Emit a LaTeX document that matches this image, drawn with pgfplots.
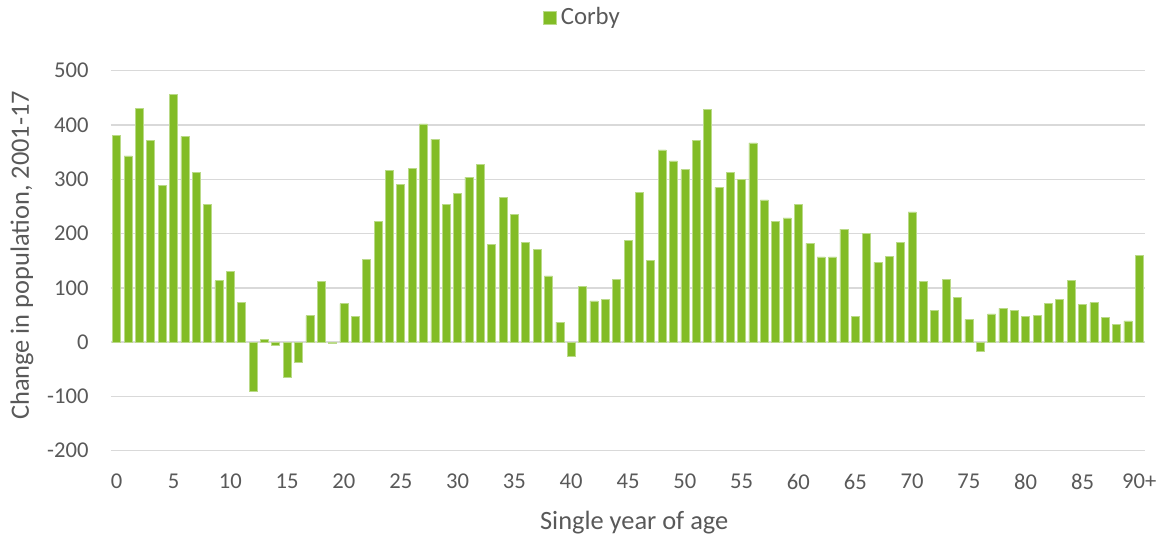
\documentclass[border=0pt]{standalone}
\usepackage{fontspec}
\setmainfont{Carlito}
\usepackage{pgfplots}
\pgfplotsset{compat=1.18}
\usetikzlibrary{calc}
\definecolor{barg}{HTML}{82BC26}
\definecolor{txt}{HTML}{595959}
\definecolor{grd}{HTML}{D9D9D9}

\pgfplotstableread{
age val
0 381
1 343
2 431
3 371
4 288
5 456
6 379
7 313
8 254
9 113
10 131
11 73
12 -91
13 5
14 -5
15 -64
16 -37
17 49
18 112
19 -3
20 71
21 47
22 152
23 222
24 317
25 290
26 320
27 402
28 374
29 253
30 274
31 304
32 328
33 180
34 266
35 236
36 183
37 171
38 122
39 37
40 -27
41 103
42 76
43 79
44 115
45 187
46 276
47 150
48 354
49 334
50 318
51 372
52 428
53 285
54 313
55 300
56 367
57 262
58 223
59 229
60 253
61 182
62 157
63 157
64 208
65 48
66 201
67 147
68 158
69 183
70 240
71 112
72 58
73 115
74 82
75 42
76 -16
77 52
78 62
79 58
80 48
81 49
82 72
83 78
84 113
85 69
86 73
87 45
88 32
89 39
90 160
}\corby

\newcommand{\lblfont}{\fontsize{11.3}{13.5}\selectfont}
\newcommand{\ttlfont}{\fontsize{13.2}{15.5}\selectfont}

\begin{document}
\begin{tikzpicture}
  \begin{axis}[
    scale only axis,
    width=517pt, height=190pt,
    xmin=-0.5, xmax=90.5,
    ymin=-200, ymax=500,
    xtick={0,5,...,90},
    xticklabels={0,5,10,15,20,25,30,35,40,45,50,55,60,65,70,75,80,85,90+},
    ytick={-200,-100,...,500},
    yticklabels={-200,-100,0,100,200,300,400,500},
    ymajorgrids,
    grid style={grd, line width=0.75pt},
    axis line style={draw=none},
    major tick length=0pt,
    tick label style={font=\lblfont, text=txt},
    yticklabel style={xshift=-7.7pt},
    xticklabel style={yshift=-8.2pt},
    label style={font=\ttlfont, text=txt},
    xlabel={Single year of age},
    ylabel={Change in population, 2001-17},
    xlabel style={at={(axis description cs:0.506,-0.189)}, anchor=center},
    ylabel style={at={(axis description cs:-0.086,0.514)}, anchor=center},
    legend style={draw=none, fill=none, font=\fontsize{12.4}{14}\selectfont, text=txt,
      at={(axis description cs:0.457,1.139)}, anchor=center,
      /tikz/every even column/.append style={column sep=0pt}},
    legend image code/.code={\fill[#1] (0pt,-3.4pt) rectangle (6.5pt,3.4pt);},
  ]
  \addplot[ybar, bar width=4pt, fill=barg, draw=barg!55!white, line width=0.3pt]
    table[x=age, y=val] {\corby};
  \addlegendentry{Corby}
  \end{axis}
  \pgfresetboundingbox
  \path ($(current axis.south west)+(-55.5pt,-42.65pt)$) rectangle ($(current axis.north east)+(8.5pt,35.35pt)$);
\end{tikzpicture}
\end{document}
